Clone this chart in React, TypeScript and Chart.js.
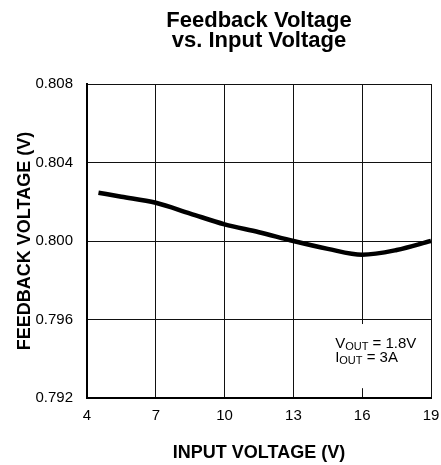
import React, { useEffect, useRef } from "react";
import { Chart, registerables } from "chart.js";

Chart.register(...registerables);

const inputVoltage = [4.5, 5.5, 7, 8.5, 10, 11.5, 13, 14.5, 16, 17.5, 19];
const feedbackVoltage = [0.80246, 0.80226, 0.80195, 0.8014, 0.80085, 0.80045, 0.8, 0.7996, 0.7993, 0.79954, 0.8];
const xTicks = [4, 7, 10, 13, 16, 19];
const yTicks = [0.792, 0.796, 0.8, 0.804, 0.808];
const titleLines = ["Feedback Voltage", "vs. Input Voltage"];
const xTitle = "INPUT VOLTAGE (V)";
const yTitle = "FEEDBACK VOLTAGE (V)";
const noteLines = [
  ["V", "OUT", " = 1.8V"],
  ["I", "OUT", " = 3A"],
];
// annotation anchors in data units
const noteBox = { x0: 14.6, x1: 18.75, y0: 0.79577, y1: 0.7925 };
const noteTextX = 14.82;
const noteBaselines = [0.79455, 0.79385];

const FONT = '"Liberation Sans", Arial, sans-serif';

const notePlugin = {
  id: "note",
  beforeDatasetsDraw(chart: any) {
    const { ctx } = chart;
    const x = chart.scales.x;
    const y = chart.scales.y;
    const l = x.getPixelForValue(noteBox.x0);
    const r = x.getPixelForValue(noteBox.x1);
    const t = y.getPixelForValue(noteBox.y0);
    const b = y.getPixelForValue(noteBox.y1);
    ctx.save();
    ctx.fillStyle = "#ffffff";
    ctx.fillRect(l, t, r - l, b - t);
    ctx.fillStyle = "#000000";
    ctx.textBaseline = "alphabetic";
    ctx.textAlign = "left";
    noteLines.forEach((parts, i) => {
      let cx = x.getPixelForValue(noteTextX);
      const by = y.getPixelForValue(noteBaselines[i]);
      ctx.font = `15px ${FONT}`;
      ctx.fillText(parts[0], cx, by);
      cx += ctx.measureText(parts[0]).width;
      ctx.font = `11px ${FONT}`;
      ctx.fillText(parts[1], cx, by + 2);
      cx += ctx.measureText(parts[1]).width;
      ctx.font = `15px ${FONT}`;
      ctx.fillText(parts[2], cx, by);
    });
    ctx.restore();
  },
};

export default function App() {
  const ref = useRef<HTMLCanvasElement | null>(null);
  useEffect(() => {
    if (!ref.current) return;
    const chart = new Chart(ref.current, {
      type: "line",
      data: {
        datasets: [
          {
            data: inputVoltage.map((v, i) => ({ x: v, y: feedbackVoltage[i] })),
            borderColor: "#000000",
            borderWidth: 4.5,
            pointRadius: 0,
            cubicInterpolationMode: "monotone",
            fill: false,
          },
        ],
      },
      options: {
        responsive: false,
        animation: false,
        layout: { padding: { left: 0, right: 10, top: 0, bottom: 0 } },
        plugins: {
          legend: { display: false },
          tooltip: { enabled: false },
          title: {
            display: true,
            fullSize: false,
            text: titleLines,
            color: "#000000",
            font: { family: FONT, size: 22, weight: "bold", lineHeight: 0.91 },
            padding: { top: 11, bottom: 33 },
          },
        },
        scales: {
          x: {
            type: "linear",
            min: 4,
            max: 19,
            afterBuildTicks: (s: any) => {
              s.ticks = xTicks.map((v) => ({ value: v }));
            },
            afterFit: (s: any) => {
              s.height = 67;
              s.paddingLeft = 0;
              s.paddingRight = 0;
            },
            ticks: {
              color: "#000000",
              font: { family: FONT, size: 15 },
              padding: 9,
              maxRotation: 0,
              callback: (v: any) => String(v),
            },
            grid: { color: "#111111", lineWidth: 1, drawTicks: false },
            border: { color: "#000000", width: 2 },
            title: {
              display: true,
              text: xTitle,
              color: "#000000",
              font: { family: FONT, size: 18, weight: "bold", lineHeight: 1.2 },
              padding: { top: 0, bottom: 1 },
            },
          },
          y: {
            type: "linear",
            min: 0.792,
            max: 0.808,
            afterBuildTicks: (s: any) => {
              s.ticks = yTicks.map((v) => ({ value: v }));
            },
            afterFit: (s: any) => {
              s.width = 87;
            },
            ticks: {
              color: "#000000",
              font: { family: FONT, size: 15 },
              padding: 14,
              callback: (v: any) => Number(v).toFixed(3),
            },
            grid: { color: "#111111", lineWidth: 1, drawTicks: false },
            border: { color: "#000000", width: 2 },
            title: {
              display: true,
              text: yTitle,
              color: "#000000",
              font: { family: FONT, size: 18, weight: "bold", lineHeight: 1.2 },
              padding: { top: 14, bottom: 0 },
            },
          },
        },
      },
      plugins: [notePlugin],
    });
    return () => chart.destroy();
  }, []);
  return (
    <div style={{ position: "absolute", left: 0, top: 0, width: 441, height: 465, background: "#fff" }}>
      <canvas ref={ref} width={441} height={465} />
    </div>
  );
}
